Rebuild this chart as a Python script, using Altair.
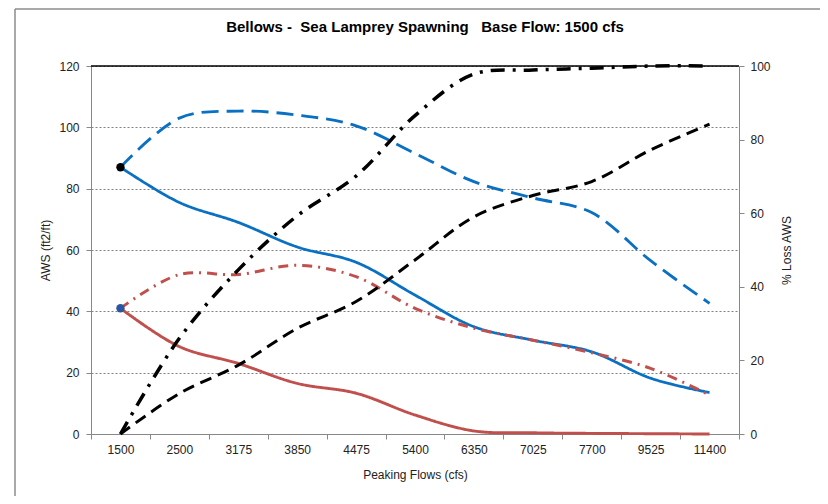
import altair as alt
import pandas as pd

# ---- data ----
flows = ["1500", "2500", "3175", "3850", "4475", "5400", "6350", "7025", "7700", "9525", "11400"]

aws_blue_solid = [87, 75.5, 69, 61, 56, 45.3, 35, 30.6, 26.8, 18.2, 13.5]
aws_blue_dashed = [87, 103, 105.3, 104, 100.5, 91.5, 82.3, 77, 72.2, 56.5, 42.6]
aws_red_solid = [41, 28.5, 23, 16.5, 13.3, 6.2, 1.0, 0.4, 0.2, 0.1, 0.0]
aws_red_dashdot = [41, 52, 52, 55, 51.3, 41, 34.5, 30.6, 26.5, 21.4, 12.7]

loss_dashdot = [0, 26, 44.6, 59.3, 70.1, 86.5, 97.8, 98.9, 99.4, 100, 100]
loss_dashed = [0, 11, 18.7, 28.7, 36, 47.3, 59, 64.8, 68.6, 77.2, 84.2]

title_text = "Bellows -\u00a0\u00a0Sea Lamprey Spawning\u00a0\u00a0\u00a0Base Flow: 1500 cfs"

left_names = ["AWS peak (A)", "AWS peak (B)", "AWS (C)", "AWS (D)"]
left_series = [aws_blue_solid, aws_blue_dashed, aws_red_solid, aws_red_dashdot]
left_colors = ["#0A70C2", "#0A70C2", "#C0504D", "#C0504D"]
left_dash = [[1, 0], [17, 8], [1, 0], [10, 6, 2, 6]]
left_width = [2.8, 3, 2.8, 2.4]

right_names = ["% Loss (A)", "% Loss (B)"]
right_series = [loss_dashdot, loss_dashed]
right_colors = ["#000000", "#000000"]
right_dash = [[14, 8, 3, 8], [12, 7]]
right_width = [3.5, 3]

marker_names = ["start A", "start C"]
marker_values = [aws_blue_solid[0], aws_red_solid[0]]
marker_colors = ["#000000", "#2A56A0"]

left_df = pd.DataFrame(
    [{"flow": f, "series": n, "value": v}
     for n, s in zip(left_names, left_series) for f, v in zip(flows, s)]
)
right_df = pd.DataFrame(
    [{"flow": f, "series": n, "value": v}
     for n, s in zip(right_names, right_series) for f, v in zip(flows, s)]
)
marker_df = pd.DataFrame({"flow": [flows[0]] * 2, "series": marker_names, "value": marker_values})

FONT = "Liberation Sans"
W, H = 648, 368
INTERP = "catmull-rom"

x_enc = alt.X(
    "flow:N",
    sort=flows,
    scale=alt.Scale(type="band", paddingInner=0, paddingOuter=0),
    axis=alt.Axis(
        title="Peaking Flows (cfs)",
        labelAngle=0,
        tickBand="extent",
        tickSize=5,
        tickColor="#888888",
        domainColor="#888888",
        labelPadding=5,
        titlePadding=14,
        grid=False,
    ),
)

left_lines = alt.Chart(left_df).mark_line(interpolate=INTERP).encode(
    x=x_enc,
    y=alt.Y(
        "value:Q",
        scale=alt.Scale(domain=[0, 120], nice=False),
        axis=alt.Axis(
            title="AWS (ft2/ft)",
            values=[0, 20, 40, 60, 80, 100, 120],
            grid=True,
            gridDash=[2, 2],
            gridColor="#808080",
            gridWidth=1,
            tickSize=5,
            tickColor="#888888",
            domainColor="#888888",
            labelPadding=7,
            titlePadding=6,
        ),
    ),
    color=alt.Color("series:N", scale=alt.Scale(domain=left_names, range=left_colors), legend=None),
    strokeDash=alt.StrokeDash("series:N", scale=alt.Scale(domain=left_names, range=left_dash), legend=None),
    strokeWidth=alt.StrokeWidth("series:N", scale=alt.Scale(domain=left_names, range=left_width), legend=None),
)

top_rule = alt.Chart(pd.DataFrame({"v": [120]})).mark_rule(color="#000000", strokeWidth=1.5).encode(
    y=alt.Y("v:Q")
)

markers = alt.Chart(marker_df).mark_point(filled=True, opacity=1, size=70).encode(
    x=alt.X("flow:N", sort=flows),
    y=alt.Y("value:Q"),
    fill=alt.Fill("series:N", scale=alt.Scale(domain=marker_names, range=marker_colors), legend=None),
)

left_layer = alt.layer(left_lines, top_rule, markers)

right_lines = alt.Chart(right_df).mark_line(interpolate=INTERP).encode(
    x=alt.X("flow:N", sort=flows),
    y=alt.Y(
        "value:Q",
        scale=alt.Scale(domain=[0, 100], nice=False),
        axis=alt.Axis(
            title="% Loss AWS",
            orient="right",
            values=[0, 20, 40, 60, 80, 100],
            grid=False,
            tickSize=5,
            tickColor="#888888",
            domainColor="#888888",
            labelPadding=6,
            titleAngle=270,
            titleX=47,
            titleY=H / 2,
            titleAlign="center",
            titleBaseline="middle",
        ),
    ),
    color=alt.Color("series:N", scale=alt.Scale(domain=right_names, range=right_colors), legend=None),
    strokeDash=alt.StrokeDash("series:N", scale=alt.Scale(domain=right_names, range=right_dash), legend=None),
    strokeWidth=alt.StrokeWidth("series:N", scale=alt.Scale(domain=right_names, range=right_width), legend=None),
)

# chart-area border (top and left edges, as in the reference)
border_left = alt.Chart(pd.DataFrame({"a": [0]})).mark_rule(color="#8C8C8C", strokeWidth=1.5).encode(
    x=alt.value(-76), y=alt.value(-57), y2=alt.value(440)
)
border_top = alt.Chart(pd.DataFrame({"a": [0]})).mark_rule(color="#8C8C8C", strokeWidth=1.5).encode(
    x=alt.value(-76), x2=alt.value(732), y=alt.value(-57)
)

title_mark = alt.Chart(pd.DataFrame({"t": [title_text]})).mark_text(
    font=FONT, fontSize=15, fontWeight="bold", color="#000000", align="center", baseline="middle"
).encode(
    text="t:N", x=alt.value(W / 2 + 10), y=alt.value(-39)
)

chart = (
    alt.layer(left_layer, right_lines, border_left, border_top, title_mark)
    .resolve_scale(y="independent", color="independent", strokeDash="independent", strokeWidth="independent")
    .properties(
        width=W,
        height=H,
        autosize=alt.AutoSizeParams(type="none"),
        padding={"left": 83, "top": 58, "right": 81, "bottom": 62},
    )
    .configure(font=FONT)
    .configure_axis(
        labelFont=FONT,
        titleFont=FONT,
        labelFontSize=12,
        titleFontSize=12,
        labelColor="#222222",
        titleColor="#222222",
        titleFontWeight="normal",
    )
    .configure_view(stroke=None)
)

chart.save("out.html", embed_options={"renderer": "svg", "actions": False})
